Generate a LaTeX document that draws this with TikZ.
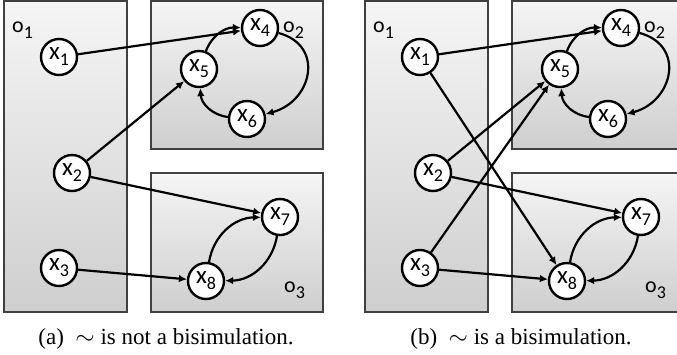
\documentclass[tikz,border=0pt]{standalone}
\usepackage{fontspec}
\setmainfont{Liberation Serif}
\newfontfamily\nodefont{Carlito}
\usetikzlibrary{arrows.meta}
\newcommand{\lbl}[2]{#1\raisebox{-6pt}{\fontsize{18}{18}\selectfont #2}}
% one panel: three boxes, eight states, and the arrows inside the boxes
\newcommand{\panel}[1]{%
\draw[blockbox] (4,-1) rectangle (127,-312);
\draw[blockbox] (151,-1) rectangle (323,-149);
\draw[blockbox] (151,-173) rectangle (323,-312);
\node[blocklabel] (#1o1) at (12,-32) {\lbl{o}{1}};
\node[blocklabel] (#1o2) at (283,-32) {\lbl{o}{2}};
\node[blocklabel] (#1o3) at (284,-292) {\lbl{o}{3}};
\node[state] (#1x1) at (59,-57) {\lbl{x}{1}};
\node[state] (#1x2) at (72,-173) {\lbl{x}{2}};
\node[state] (#1x3) at (59,-268) {\lbl{x}{3}};
\node[state] (#1x4) at (260,-28) {\lbl{x}{4}};
\node[state] (#1x5) at (199,-69) {\lbl{x}{5}};
\node[state] (#1x6) at (247,-119) {\lbl{x}{6}};
\node[state] (#1x7) at (280,-217) {\lbl{x}{7}};
\node[state] (#1x8) at (206,-281) {\lbl{x}{8}};
\draw[trans] (#1x5) to[bend left=35] (#1x4);
\draw[trans] (#1x4) to[out=-15,in=15,looseness=1.5] (#1x6);
\draw[trans] (#1x6) to[bend left=40] (#1x5);
\draw[trans] (#1x8) to[bend left=40] (#1x7);
\draw[trans] (#1x7) to[bend left=40] (#1x8);
}

\begin{document}
\begin{tikzpicture}[x=1pt,y=1pt,
  blockbox/.style={draw=black!75,line width=1.4pt,top color=gray!8,bottom color=gray!38},
  blocklabel/.style={anchor=base west,inner sep=0pt,font=\nodefont\fontsize{22}{22}\selectfont},
  state/.style={circle,draw,fill=white,line width=2.4pt,minimum size=36pt,inner sep=0pt,
    font=\nodefont\fontsize{25}{25}\selectfont},
  trans/.style={line width=2.2pt,-{Latex[length=8pt,width=7.5pt]}}]
\useasboundingbox (0,0) rectangle (677,-354);

% (a)
\panel{a}
\draw[trans] (ax1) -- (ax4);
\draw[trans] (ax2) -- (ax5);
\draw[trans] (ax2) -- (ax7);
\draw[trans] (ax3) -- (ax8);
\node[anchor=base] (capa) at (166,-344) {\fontsize{23}{26}\selectfont (a)\ \ $\sim$ is not a bisimulation.};

% (b)
\begin{scope}[xshift=361pt]
\panel{b}
\draw[trans] (bx1) -- (bx4);
\draw[trans] (bx1) -- (bx8);
\draw[trans] (bx2) -- (bx5);
\draw[trans] (bx2) -- (bx7);
\draw[trans] (bx3) -- (bx5);
\draw[trans] (bx3) -- (bx8);
\node[anchor=base] (capb) at (160,-344) {\fontsize{23}{26}\selectfont (b)\ \ $\sim$ is a bisimulation.};
\end{scope}
\end{tikzpicture}
\end{document}
